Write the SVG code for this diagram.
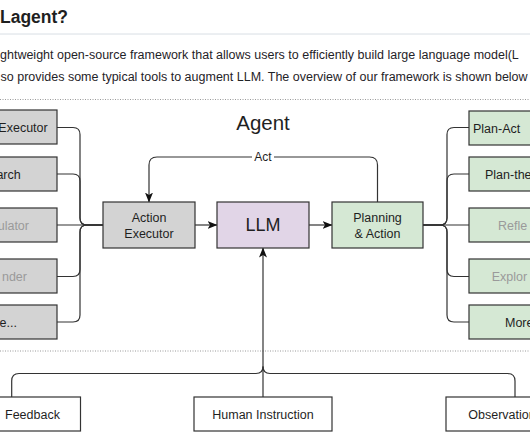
<svg xmlns="http://www.w3.org/2000/svg" width="530" height="442" viewBox="0 0 530 442">
<defs>
<style>
.t{font-family:"Liberation Sans",Arial,Helvetica,sans-serif;fill:#1f1f1f}
.p{font-size:12.5px;fill:#1f2328}
.bx{stroke:#333;stroke-width:1.2}
.g{fill:#d3d3d3}
.gr{fill:#d5e8d4}
.pu{fill:#e1d5e7}
.w{fill:#fff}
.lbl{font-size:12.5px}
.dim{fill:#9a9a9a}
.e{fill:none;stroke:#333;stroke-width:1.2}
.dot{stroke:#9a9a9a;stroke-width:1;stroke-dasharray:1 1.5;fill:none}
</style>
<marker id="ar" viewBox="0 0 10 8" refX="9.5" refY="4" markerWidth="10" markerHeight="8" markerUnits="userSpaceOnUse" orient="auto">
<path d="M0,0 L10,4 L0,8 L2.5,4 Z" fill="#111"/>
</marker>
</defs>
<rect width="530" height="442" fill="#fff"/>
<g id="header">
<text class="t" x="0" y="23" font-size="17.5" font-weight="bold" fill="#1f2328">Lagent?</text>
<line x1="0" y1="34" x2="530" y2="34" stroke="#d8dee4" stroke-width="1"/>
<text class="t p" x="0" y="59">ghtweight open-source framework that allows users to efficiently build large language model(L</text>
<text class="t p" x="0.5" y="81">so provides some typical tools to augment LLM. The overview of our framework is shown below</text>
<line class="dot" x1="0" y1="99.5" x2="530" y2="99.5"/>
<line class="dot" x1="0" y1="351" x2="530" y2="351"/>
</g>
<text class="t" x="263" y="130" font-size="20.5" text-anchor="middle">Agent</text>
<g id="connectors">
<path class="e" d="M57,127.5 H73 Q80,127.5 80,134.5 V218 Q80,225 87,225 H103"/>
<path class="e" d="M57,174 H73 Q80,174 80,181 V218 Q80,225 87,225 H103"/>
<path class="e" d="M57,225 H103"/>
<path class="e" d="M57,276.5 H73 Q80,276.5 80,269.5 V232 Q80,225 87,225 H103"/>
<path class="e" d="M57,322 H73 Q80,322 80,315 V232 Q80,225 87,225 H103"/>
<path class="e" d="M423,225 H440 Q447,225 447,218 V134.5 Q447,127.5 454,127.5 H469"/>
<path class="e" d="M423,225 H440 Q447,225 447,218 V181 Q447,174 454,174 H469"/>
<path class="e" d="M423,225 H469"/>
<path class="e" d="M423,225 H440 Q447,225 447,232 V269.5 Q447,276.5 454,276.5 H469"/>
<path class="e" d="M423,225 H440 Q447,225 447,232 V315 Q447,322 454,322 H469"/>
<path class="e" d="M195,225 H217" marker-end="url(#ar)"/>
<path class="e" d="M309,225 H332" marker-end="url(#ar)"/>
<path class="e" d="M377.5,202 V165 Q377.5,157 369.5,157 H157 Q149,157 149,165 V202" marker-end="url(#ar)"/>
<rect x="252" y="150" width="22" height="13" fill="#fff"/>
<text class="t" x="263" y="161" font-size="12" text-anchor="middle">Act</text>
<path class="e" d="M11.7,397 V381 Q11.7,373.5 19,373.5 H256 Q263,373.5 263,366.5"/>
<path class="e" d="M515,397 V381 Q515,373.5 507.5,373.5 H270 Q263,373.5 263,366.5"/>
<path class="e" d="M263,397 V248" marker-end="url(#ar)"/>
</g>
<g id="tool1"><rect class="bx g" x="-40" y="110" width="97" height="34"/><text class="t lbl" x="47.7" y="132" text-anchor="end">Executor</text></g>
<g id="tool2"><rect class="bx g" x="-40" y="157" width="97" height="34"/><text class="t lbl" x="20.7" y="179" text-anchor="end">arch</text></g>
<g id="tool3"><rect class="bx g" x="-40" y="208" width="97" height="34"/><text class="t lbl dim" x="29" y="230" text-anchor="end">ulator</text></g>
<g id="tool4"><rect class="bx g" x="-40" y="259" width="97" height="34"/><text class="t lbl dim" x="27" y="281" text-anchor="end">nder</text></g>
<g id="tool5"><rect class="bx g" x="-40" y="305" width="97" height="34"/><text class="t lbl" x="17" y="327" text-anchor="end">re...</text></g>
<g id="action-executor"><rect class="bx g" x="103" y="202" width="92" height="46"/><text class="t lbl" x="149" y="222" text-anchor="middle">Action</text><text class="t lbl" x="149" y="238" text-anchor="middle">Executor</text></g>
<g id="llm"><rect class="bx pu" x="217" y="202" width="92" height="46"/><text class="t" x="263" y="231" font-size="18" text-anchor="middle">LLM</text></g>
<g id="planning"><rect class="bx gr" x="332" y="202" width="91" height="46"/><text class="t lbl" x="377.5" y="222" text-anchor="middle">Planning</text><text class="t lbl" x="377.5" y="238" text-anchor="middle">&amp; Action</text></g>
<g id="plan1"><rect class="bx gr" x="469" y="111" width="100" height="34"/><text class="t lbl" x="473" y="133">Plan-Act</text></g>
<g id="plan2"><rect class="bx gr" x="469" y="157" width="100" height="34"/><text class="t lbl" x="485" y="179">Plan-the</text></g>
<g id="plan3"><rect class="bx gr" x="469" y="208" width="100" height="34"/><text class="t lbl dim" x="498" y="230">Refle</text></g>
<g id="plan4"><rect class="bx gr" x="469" y="259" width="100" height="34"/><text class="t lbl dim" x="491.7" y="281">Explor</text></g>
<g id="plan5"><rect class="bx gr" x="469" y="305" width="100" height="34"/><text class="t lbl" x="505" y="327">More</text></g>
<g id="feedback"><rect class="bx w" x="-40" y="397" width="120.5" height="34"/><text class="t lbl" x="5" y="418.5">Feedback</text></g>
<g id="human"><rect class="bx w" x="194" y="397" width="138" height="34"/><text class="t lbl" x="263" y="418.5" text-anchor="middle">Human Instruction</text></g>
<g id="observation"><rect class="bx w" x="446" y="397" width="120" height="34"/><text class="t lbl" x="468.3" y="418.5">Observation</text></g>
</svg>
